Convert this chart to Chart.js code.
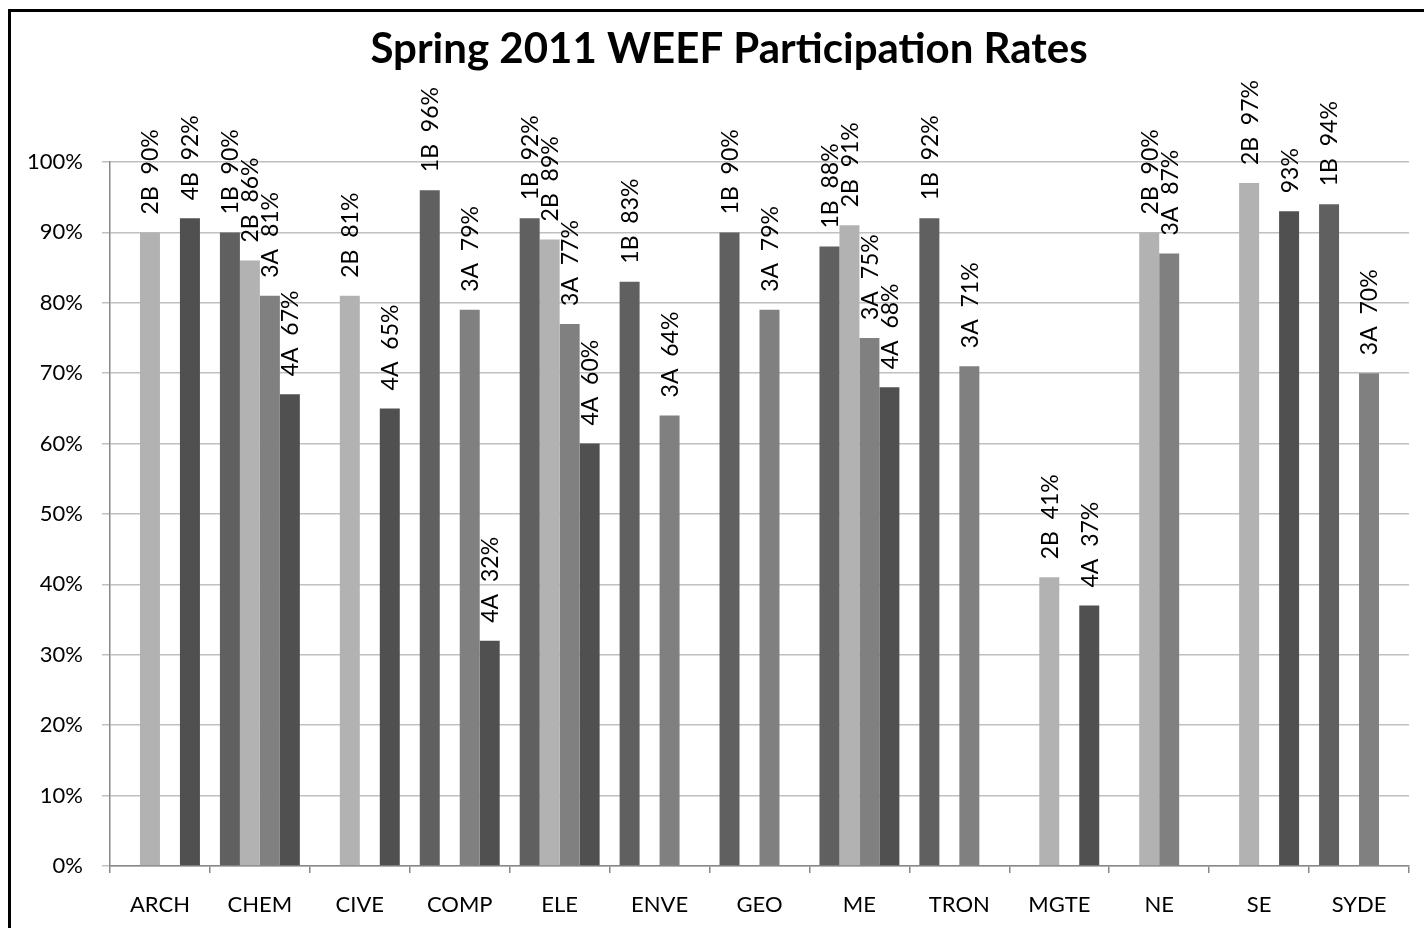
<!DOCTYPE html>
<html>
<head>
<meta charset="utf-8">
<script src="https://cdn.jsdelivr.net/npm/chart.js@4/dist/chart.umd.min.js"></script>
<style>
    html, body { margin: 0; padding: 0; background: #fff; }
    .wrap { position: relative; width: 1424px; height: 928px; overflow: hidden; }
    .frame { position: absolute; left: 8px; top: 9px; right: -10px; bottom: -10px; border-top: 3px solid #000; border-left: 3px solid #000; pointer-events: none; }
</style>
</head>
<body>
<div class="wrap">
    <canvas id="weefChart" width="1424" height="928"></canvas>
    <div class="frame"></div>
</div>
<script>
// Данные графика
const categories = ['ARCH', 'CHEM', 'CIVE', 'COMP', 'ELE', 'ENVE', 'GEO', 'ME', 'TRON', 'MGTE', 'NE', 'SE', 'SYDE'];
const values1B = [null, 90, null, 96, 92, 83, 90, 88, 92, null, null, null, 94];
const values2B = [90, 86, 81, null, 89, null, null, 91, null, 41, 90, 97, null];
const values3A = [null, 81, null, 79, 77, 64, 79, 75, 71, null, 87, null, 70];
const values4 = [92, 67, 65, 32, 60, null, null, 68, null, 37, null, 93, null];
const names4 = ['4B', '4A', '4A', '4A', '4A', '', '', '4A', '', '4A', '', '', ''];
const yTicks = [0, 10, 20, 30, 40, 50, 60, 70, 80, 90, 100];

const titleText = 'Spring 2011 WEEF Participation Rates';

// Подписи над столбцами (повернутые)
const barLabels = {
    id: 'barLabels',
    afterDatasetsDraw(chart) {
        const ctx = chart.ctx;
        ctx.save();
        ctx.font = '23px Lato';
        ctx.fillStyle = '#000';
        ctx.textAlign = 'left';
        ctx.textBaseline = 'middle';
        chart.data.datasets.forEach((ds, di) => {
            const meta = chart.getDatasetMeta(di);
            meta.data.forEach((bar, i) => {
                const v = ds.data[i];
                if (v === null) return;
                const name = ds.names ? ds.names[i] : ds.label;
                const text = (name ? name + '  ' : '') + v + '%';
                ctx.save();
                ctx.translate(bar.x + 1, bar.y - 18);
                ctx.rotate(-Math.PI / 2);
                ctx.fillText(text, 0, 0);
                ctx.restore();
            });
        });
        ctx.restore();
    }
};

const chartTitle = {
    id: 'chartTitle',
    afterDraw(chart) {
        const ctx = chart.ctx;
        ctx.save();
        ctx.font = 'bold 42px Lato';
        ctx.fillStyle = '#000';
        ctx.textAlign = 'center';
        ctx.textBaseline = 'middle';
        ctx.fillText(titleText, 729, 49);
        ctx.restore();
    }
};

const ctx = document.getElementById('weefChart').getContext('2d');
new Chart(ctx, {
    type: 'bar',
    data: {
        labels: categories,
        datasets: [
            { label: '1B', data: values1B, backgroundColor: '#606060' },
            { label: '2B', data: values2B, backgroundColor: '#b2b2b2' },
            { label: '3A', data: values3A, backgroundColor: '#808080' },
            { label: '4A', names: names4, data: values4, backgroundColor: '#505050' }
        ]
    },
    options: {
        responsive: false,
        animation: false,
        layout: { padding: { left: 0, right: 15, top: 162, bottom: 0 } },
        datasets: { bar: { categoryPercentage: 0.8, barPercentage: 1.0, borderWidth: 0 } },
        scales: {
            x: {
                grid: { offset: true, drawOnChartArea: false, drawTicks: true, tickLength: 7, color: '#888', lineWidth: 1.5 },
                border: { color: '#888', width: 1.5 },
                ticks: { font: { family: 'Lato', size: 22 }, color: '#000', padding: 19, maxRotation: 0 },
                afterFit: s => { s.height = 62; }
            },
            y: {
                min: 0,
                max: 100,
                afterBuildTicks: s => { s.ticks = yTicks.map(v => ({ value: v })); },
                grid: { color: '#c0c0c0', lineWidth: 1.5, tickLength: 8 },
                border: { color: '#888', width: 1.5 },
                ticks: { font: { family: 'Lato', size: 22 }, color: '#000', padding: 19, callback: v => v + '%' },
                afterFit: s => { s.width = 110; }
            }
        },
        plugins: {
            legend: { display: false },
            title: { display: false },
            tooltip: { enabled: false }
        }
    },
    plugins: [barLabels, chartTitle]
});
</script>
</body>
</html>
